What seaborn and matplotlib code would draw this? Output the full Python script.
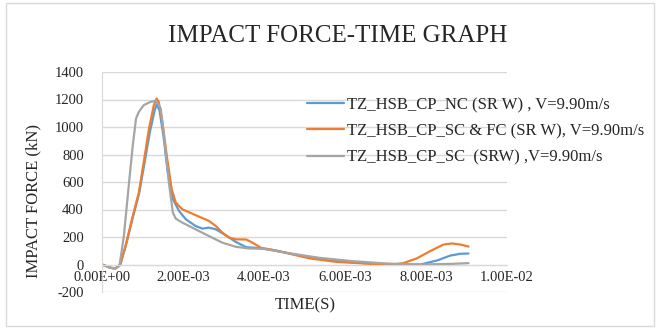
import matplotlib
matplotlib.use("Agg")
import matplotlib.pyplot as plt
import seaborn as sns
import pandas as pd
from matplotlib.patches import Rectangle

# ---- data (time in s, force in kN) ----
series_names = [
    "TZ_HSB_CP_NC (SR W) , V=9.90m/s",
    "TZ_HSB_CP_SC & FC (SR W), V=9.90m/s",
    "TZ_HSB_CP_SC  (SRW) ,V=9.90m/s",
]

t_nc = [0.0, 0.21e-3, 0.33e-3, 0.45e-3, 0.60e-3, 0.75e-3, 0.92e-3, 1.05e-3, 1.18e-3, 1.30e-3,
        1.35e-3, 1.42e-3, 1.52e-3, 1.62e-3, 1.75e-3, 1.90e-3, 2.07e-3, 2.31e-3, 2.48e-3, 2.64e-3,
        2.81e-3, 3.06e-3, 3.30e-3, 3.56e-3, 3.81e-3, 4.14e-3, 4.55e-3, 4.96e-3, 5.79e-3, 6.62e-3,
        7.44e-3, 7.86e-3, 8.27e-3, 8.60e-3, 8.85e-3, 9.05e-3]
f_nc = [0, -24, -29, 0, 150, 330, 520, 740, 960, 1120,
        1165, 1120, 930, 680, 476, 390, 329, 280, 261, 268,
        256, 212, 165, 126, 121, 109, 85, 61, 24, 7,
        0, 0, 29, 65, 78, 80]

t_sc_fc = [0.0, 0.21e-3, 0.33e-3, 0.45e-3, 0.58e-3, 0.74e-3, 0.91e-3, 1.03e-3, 1.16e-3, 1.28e-3,
           1.35e-3, 1.40e-3, 1.49e-3, 1.61e-3, 1.72e-3, 1.82e-3, 1.98e-3, 2.31e-3, 2.64e-3, 2.81e-3,
           2.97e-3, 3.14e-3, 3.30e-3, 3.56e-3, 3.72e-3, 3.93e-3, 4.30e-3, 4.71e-3, 5.13e-3, 5.79e-3,
           6.62e-3, 7.19e-3, 7.44e-3, 7.77e-3, 8.10e-3, 8.43e-3, 8.64e-3, 8.85e-3, 9.05e-3]
f_sc_fc = [0, -24, -29, 0, 134, 329, 524, 744, 988, 1159,
           1207, 1183, 1037, 768, 549, 451, 402, 359, 317, 280,
           232, 195, 183, 182, 158, 121, 102, 73, 44, 19,
           5, 0, 10, 44, 97, 145, 153, 145, 131]

t_sc = [0.0, 0.21e-3, 0.33e-3, 0.43e-3, 0.54e-3, 0.66e-3, 0.76e-3, 0.84e-3, 0.91e-3, 1.03e-3,
        1.20e-3, 1.34e-3, 1.45e-3, 1.53e-3, 1.65e-3, 1.75e-3, 1.82e-3, 1.98e-3, 2.31e-3, 2.64e-3,
        2.97e-3, 3.30e-3, 3.64e-3, 3.97e-3, 4.55e-3, 5.38e-3, 6.20e-3, 7.03e-3, 7.86e-3, 8.68e-3,
        9.05e-3]
f_sc = [0, -24, -29, -12, 207, 573, 866, 1061, 1110, 1159,
        1183, 1190, 1134, 939, 598, 378, 334, 305, 256, 207,
        159, 129, 116, 115, 85, 48, 24, 7, 0, 5,
        10]

x_ticks = [0.0, 0.002, 0.004, 0.006, 0.008, 0.010]
y_ticks = [-200, 0, 200, 400, 600, 800, 1000, 1200, 1400]
colors = ["#5B9BD5", "#ED7D31", "#A5A5A5"]

frames = []
for name, t, f in zip(series_names, [t_nc, t_sc_fc, t_sc], [f_nc, f_sc_fc, f_sc]):
    frames.append(pd.DataFrame({"time": t, "force": f, "series": name}))
df = pd.concat(frames, ignore_index=True)

# ---- figure ----
sns.set_style("white")
plt.rcParams["font.family"] = ["Liberation Serif", "DejaVu Serif"]

W, H = 660, 329
fig = plt.figure(figsize=(W / 100, H / 100), dpi=100)
ax = fig.add_axes([102 / W, 1 - 292 / H, (507 - 102) / W, (292 - 72) / H])

sns.lineplot(data=df, x="time", y="force", hue="series", hue_order=series_names,
             palette=colors, estimator=None, sort=False, linewidth=1.6, ax=ax,
             legend=True)

ax.set_xlim(0, 0.010)
ax.set_ylim(-200, 1400)
ax.set_xticks(x_ticks)
ax.set_yticks(y_ticks)
ax.set_xticklabels(["{:.2E}".format(v) for v in x_ticks])
ax.set_yticklabels([str(v) for v in y_ticks])
ax.grid(axis="y", color="#d9d9d9", linewidth=1.0)
ax.set_axisbelow(True)
for s in ["top", "right"]:
    ax.spines[s].set_visible(False)
ax.spines["bottom"].set_position(("data", 0))
ax.spines["bottom"].set_color("#d9d9d9")
ax.spines["left"].set_color("#d9d9d9")
ax.tick_params(axis="both", length=0, labelsize=10.5, colors="#262626")
ax.tick_params(axis="y", pad=13)
ax.tick_params(axis="x", pad=5)
ax.set_xlabel("")
ax.set_ylabel("")

leg = ax.legend(loc="upper left", bbox_to_anchor=(307 / W, 1 - 97 / H),
                bbox_transform=fig.transFigure, frameon=False, fontsize=12,
                handlelength=2.2, handletextpad=0.2, labelspacing=0.62,
                borderaxespad=0, borderpad=0)

fig.text(338 / W, 1 - 36 / H, "IMPACT FORCE-TIME GRAPH", ha="center", va="center",
         fontsize=18, color="#262626")
fig.text(33 / W, 1 - 201 / H, "IMPACT FORCE (kN)", ha="center", va="center",
         rotation=90, fontsize=12, color="#262626")
fig.text(305 / W, 1 - 305 / H, "TIME(S)", ha="center", va="center",
         fontsize=12, color="#262626")

fig.patches.append(Rectangle((6 / W, 3 / H), (654 - 6) / W, (326 - 3) / H,
                             transform=fig.transFigure, fill=False,
                             edgecolor="#d9d9d9", linewidth=1.0))

fig.savefig("out.png", dpi=100)
